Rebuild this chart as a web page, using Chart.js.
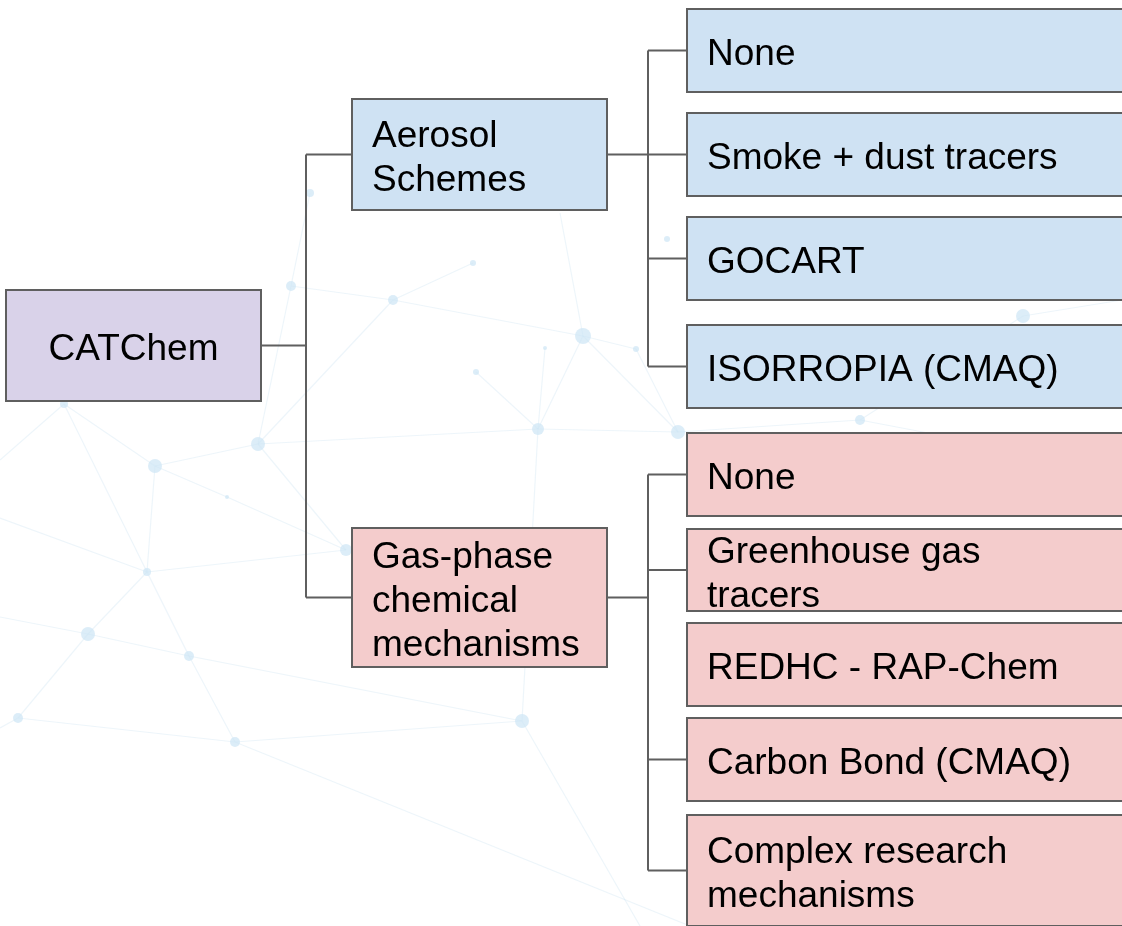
<!DOCTYPE html>
<html>
<head>
<meta charset="utf-8">
<script src="https://cdn.jsdelivr.net/npm/chart.js@4/dist/chart.umd.min.js"></script>
<style>
html,body{margin:0;padding:0;background:#ffffff;overflow:hidden;}
#wrap{width:1122px;height:926px;}
</style>
</head>
<body>
<div id="wrap"><canvas id="c" width="1122" height="926"></canvas></div>
<script>
// ---------- DATA ----------
const nodeLabels = [
  ['CATChem'],
  ['Aerosol', 'Schemes'],
  ['Gas-phase', 'chemical', 'mechanisms'],
  ['None'],
  ['Smoke + dust tracers'],
  ['GOCART'],
  ['ISORROPIA (CMAQ)'],
  ['None'],
  ['Greenhouse gas', 'tracers'],
  ['REDHC - RAP-Chem'],
  ['Carbon Bond (CMAQ)'],
  ['Complex research', 'mechanisms']
];
const nodeParent = [-1, 0, 0, 1, 1, 1, 1, 2, 2, 2, 2, 2];
const nodeGroup  = ['root', 'aerosol', 'gas', 'aerosol', 'aerosol', 'aerosol', 'aerosol', 'gas', 'gas', 'gas', 'gas', 'gas'];
const nodeLevel  = [0, 1, 1, 2, 2, 2, 2, 2, 2, 2, 2, 2];
const linkShown  = [true, true, true, true, true, true, true, true, true, false, true, true];

// ---------- LAYOUT (axis units) ----------
const levelSpan = [[6, 261], [352, 607], [687, 1140]];
const nodeTop    = [290, 99, 528, 9, 113, 217, 325, 433, 529, 623, 718, 815];
const nodeBottom = [401, 210, 667, 92, 196, 300, 408, 516, 611, 706, 801, 926];
const busX = {0: 306, 1: 648, 2: 647};

// decorative background network
const bgNodeX = [64, 258, 155, 227, 147, 346, 88, 189, 18, 235, 522, 538, 678, 310, 291, 393, 473, 583, 545, 476, 636, 667, 1023, 860];
const bgNodeY = [404, 444, 466, 497, 572, 550, 634, 656, 718, 742, 721, 429, 432, 193, 286, 300, 263, 336, 348, 372, 349, 239, 316, 420];
const bgNodeR = [4, 7, 7, 2, 4, 6, 7, 5, 5, 5, 7, 6, 7, 4, 5, 5, 3, 8, 2, 3, 3, 3, 7, 5];
const bgEdges = [[0,2],[2,1],[2,3],[3,5],[2,4],[0,4],[4,5],[1,5],[1,11],[11,12],[4,6],[4,7],[6,7],[7,10],[6,8],[7,9],[8,9],[9,10],[10,11],[14,15],[15,17],[14,1],[11,17],[18,11],[19,11],[16,15],[15,1],[17,20],[12,20],[12,23],[23,22],[13,14],[17,12]];
const bgLoose = [[[583,336],[560,213]], [[235,742],[690,926]], [[0,518],[147,572]], [[0,617],[88,634]], [[0,728],[18,718]], [[522,721],[640,926]], [[0,460],[64,404]], [[1023,316],[1122,300]], [[860,420],[1122,470]]];

// ---------- STYLES ----------
const groupFill = {root: '#d9d2e9', aerosol: '#cfe2f3', gas: '#f4cccc'};
const edgeColor = '#5f5f5f';
const fontPx = 37;
const lineGap = 44;
const padLeft = 20;
const bgLine = 'rgba(200,225,240,0.32)';
const bgDot = 'rgba(205,230,245,0.7)';

const datasets = [];
// background edges
bgEdges.forEach(e => {
  datasets.push({data: [{x: bgNodeX[e[0]], y: bgNodeY[e[0]]}, {x: bgNodeX[e[1]], y: bgNodeY[e[1]]}],
    showLine: true, borderColor: bgLine, borderWidth: 1.2, pointRadius: 0, order: 20});
});
bgLoose.forEach(e => {
  datasets.push({data: [{x: e[0][0], y: e[0][1]}, {x: e[1][0], y: e[1][1]}],
    showLine: true, borderColor: bgLine, borderWidth: 1.2, pointRadius: 0, order: 20});
});
// background nodes
datasets.push({data: bgNodeX.map((x, i) => ({x: x, y: bgNodeY[i]})), showLine: false,
  pointRadius: bgNodeR, pointBackgroundColor: bgDot, pointBorderWidth: 0, order: 15});

// tree connectors
const cy = i => (nodeTop[i] + nodeBottom[i]) / 2;
nodeLabels.forEach((_, p) => {
  const kids = nodeParent.map((q, i) => q === p && linkShown[i] ? i : -1).filter(i => i >= 0);
  if (!kids.length) return;
  const bx = busX[nodeLevel[p]];
  const px1 = levelSpan[nodeLevel[p]][1];
  const seg = (a, b) => datasets.push({data: [a, b], showLine: true, borderColor: edgeColor,
    borderWidth: 2, pointRadius: 0, order: 1});
  seg({x: px1, y: cy(p)}, {x: bx, y: cy(p)});
  const ys = kids.map(cy).concat([cy(p)]);
  seg({x: bx, y: Math.min(...ys)}, {x: bx, y: Math.max(...ys)});
  kids.forEach(k => seg({x: bx, y: cy(k)}, {x: levelSpan[nodeLevel[k]][0], y: cy(k)}));
});

const boxPlugin = {
  id: 'boxes',
  afterDatasetsDraw(chart) {
    const ctx = chart.ctx, xs = chart.scales.x, ys = chart.scales.y;
    ctx.save();
    nodeLabels.forEach((lines, i) => {
      const span = levelSpan[nodeLevel[i]];
      const x0 = xs.getPixelForValue(span[0]), x1 = xs.getPixelForValue(span[1]);
      const y0 = ys.getPixelForValue(nodeTop[i]), y1 = ys.getPixelForValue(nodeBottom[i]);
      ctx.fillStyle = groupFill[nodeGroup[i]];
      ctx.fillRect(x0, y0, x1 - x0, y1 - y0);
      ctx.strokeStyle = edgeColor;
      ctx.lineWidth = 2;
      ctx.strokeRect(x0, y0, x1 - x0, y1 - y0);
      ctx.fillStyle = '#000000';
      ctx.font = fontPx + 'px "Liberation Sans", Arial, sans-serif';
      ctx.textBaseline = 'alphabetic';
      const mid = (y0 + y1) / 2 + 14.5;
      const n = lines.length;
      lines.forEach((t, j) => {
        const by = mid + (j - (n - 1) / 2) * lineGap;
        if (nodeLevel[i] === 0) {
          ctx.textAlign = 'center';
          ctx.fillText(t, (x0 + x1) / 2, by);
        } else {
          ctx.textAlign = 'left';
          ctx.fillText(t, x0 + padLeft, by);
        }
      });
    });
    ctx.restore();
  }
};

new Chart(document.getElementById('c'), {
  type: 'scatter',
  data: {datasets: datasets},
  options: {
    responsive: false,
    animation: false,
    events: [],
    layout: {padding: 0, autoPadding: false},
    plugins: {legend: {display: false}, tooltip: {enabled: false}},
    scales: {
      x: {type: 'linear', min: 0, max: 1122, display: false},
      y: {type: 'linear', min: 0, max: 926, reverse: true, display: false}
    },
    elements: {line: {tension: 0}}
  },
  plugins: [boxPlugin]
});
</script>
</body>
</html>
